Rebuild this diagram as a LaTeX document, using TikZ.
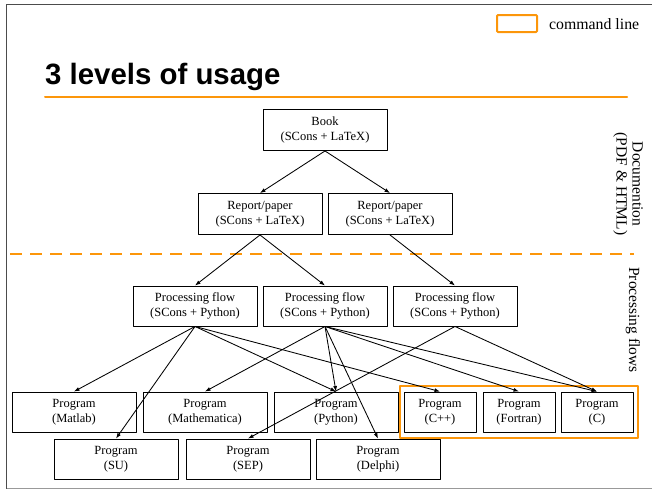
\documentclass[tikz,border=0pt]{standalone}
\usepackage{fontspec}
\setmainfont{Liberation Serif}
\newfontfamily\titlefont{Liberation Sans}
\usetikzlibrary{arrows.meta}
\definecolor{slideorange}{RGB}{252,150,10}
\begin{document}
\begin{tikzpicture}[x=1pt,y=-1pt,line cap=round,line join=round,>={Latex[length=5.5pt,width=4pt]},
  box/.style={draw,line width=0.9pt,align=center,inner sep=0pt,minimum width=124pt,minimum height=41pt,font=\fontsize{12.5}{14.5}\selectfont},
  smallbox/.style={box,minimum width=72pt,minimum height=40pt},
  progbox/.style={box,minimum height=40pt},
  link/.style={line width=0.85pt,->},
  sidelabel/.style={rotate=-90,align=center,inner sep=0pt,font=\fontsize{15.5}{16}\selectfont}]
  \useasboundingbox (0,0) rectangle (652,491);
  % slide frame
  \draw[line width=1.3pt,black!70,line cap=butt] (652,4.5) -- (6.5,4.5) -- (6.5,488.5);
  \draw[line width=1pt,black!40,line cap=butt] (6.5,488.5) -- (652,488.5);
  % legend and title
  \draw[slideorange,line width=2pt,rounded corners=1pt] (497,15) rectangle (537,32);
  \node[anchor=base west,inner sep=0pt,font=\fontsize{15.8}{18}\selectfont] (legend) at (549,29) {command line};
  \node[anchor=base west,inner sep=0pt,font=\titlefont\bfseries\fontsize{29.4}{32}\selectfont] (title) at (45,84) {3 levels of usage};
  \draw[slideorange,line width=2pt] (45,97) -- (627,97);
  \draw[slideorange,line width=2.2pt,line cap=butt,dash pattern=on 12pt off 8pt] (10,254) -- (634,254);
  % documentation level
  \node[box] (book) at (325,130) {Book\\(SCons + LaTeX)};
  \node[box] (report1) at (260,214) {Report/paper\\(SCons + LaTeX)};
  \node[box] (report2) at (390,214) {Report/paper\\(SCons + LaTeX)};
  % processing flows
  \node[progbox] (flow1) at (195,306) {Processing flow\\(SCons + Python)};
  \node[progbox] (flow2) at (325,306) {Processing flow\\(SCons + Python)};
  \node[progbox] (flow3) at (455,306) {Processing flow\\(SCons + Python)};
  % programs
  \node[progbox] (matlab) at (74,412) {Program\\(Matlab)};
  \node[progbox] (mathematica) at (205,412) {Program\\(Mathematica)};
  \node[progbox] (python) at (336,412) {Program\\(Python)};
  \node[smallbox] (cpp) at (440,412) {Program\\(C++)};
  \node[smallbox] (fortran) at (519,412) {Program\\(Fortran)};
  \node[smallbox] (clang) at (597,412) {Program\\(C)};
  \node[progbox] (su) at (116,459) {Program\\(SU)};
  \node[progbox] (sep) at (248,459) {Program\\(SEP)};
  \node[progbox] (delphi) at (378,459) {Program\\(Delphi)};
  \draw[slideorange,line width=2.4pt] (400,386) rectangle (638,438);
  % side labels
  \node[sidelabel] (doclabel) at (628,184) {Documention\\(PDF \& HTML)};
  \node[sidelabel] (flowlabel) at (633,320) {Processing flows};
  % links
  \draw[link] (book.south) -- (report1.north);
  \draw[link] (book.south) -- (report2.north);
  \draw[link] (report1.south) -- (flow1.north);
  \draw[link] (report1.south) -- (flow2.north);
  \draw[link] (report2.south) -- (flow3.north);
  \draw[link] (flow1.south) -- (matlab.north);
  \draw[link] (flow1.south) -- (su.north);
  \draw[link] (flow1.south) -- (python.north);
  \draw[link] (flow1.south) -- (cpp.north);
  \draw[link] (flow2.south) -- (mathematica.north);
  \draw[link] (flow2.south) -- (python.north);
  \draw[link] (flow2.south) -- (delphi.north);
  \draw[link] (flow2.south) -- (fortran.north);
  \draw[link] (flow2.south) -- (clang.north);
  \draw[link] (flow3.south) -- (sep.north);
  \draw[link] (flow3.south) -- (clang.north);
\end{tikzpicture}
\end{document}
